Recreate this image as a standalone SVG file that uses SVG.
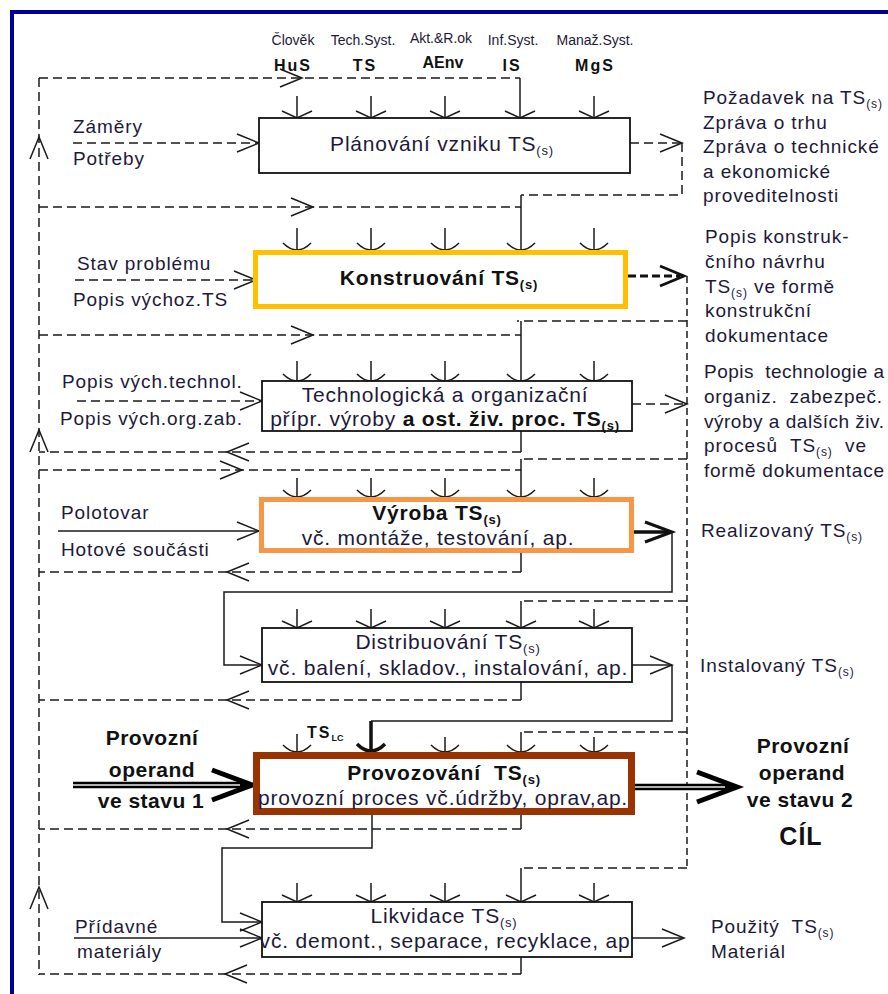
<svg xmlns="http://www.w3.org/2000/svg" width="888" height="994" viewBox="0 0 888 994">
<defs>
<style>
text { font-family: "Liberation Sans", Arial, sans-serif; fill: #1d1a38; }
.lab { font-size: 19px; letter-spacing: 0.9px; }
.fit { letter-spacing: 0; }
.bx { font-size: 21px; letter-spacing: 0.8px; text-anchor: middle; }
.bd { font-weight: bold; fill: #111; }
.hd { font-size: 14px; text-anchor: middle; }
.ab { font-size: 16px; font-weight: bold; text-anchor: middle; fill: #111; letter-spacing: 2px; }
.op { font-size: 21px; font-weight: bold; text-anchor: middle; fill: #111; letter-spacing: 0.5px; }
.ln { fill: none; stroke: #1a1a1a; stroke-width: 1.5; }
.dl { fill: none; stroke: #1a1a1a; stroke-width: 1.5; stroke-dasharray: 9 5; }
.dv { fill: none; stroke: #1a1a1a; stroke-width: 1.5; stroke-dasharray: 7 4; }
.box { fill: #fff; stroke: #111; stroke-width: 1.8; }
</style>
<path id="ah" d="M-22,-9 L0,0 L-22,9" fill="none" stroke="#1a1a1a" stroke-width="1.5"/>
<path id="arc" d="M-14,-7 Q0,7 14,-7" fill="none" stroke="#1a1a1a" stroke-width="1.5"/>
<path id="vee" d="M-15,-7 L0,0 L15,-7" fill="none" stroke="#1a1a1a" stroke-width="1.5"/>
<path id="bigHead" d="M-40,-15 L0,0 L-40,15" fill="none" stroke="#000" stroke-width="5" stroke-linejoin="miter"/>
</defs>

<rect width="888" height="994" fill="#fff"/>
<!-- page frame -->
<rect x="12" y="12" width="900" height="1000" fill="none" stroke="#000099" stroke-width="4"/>

<!-- system headers -->
<g id="headers">
  <text class="hd" x="293" y="45">Člověk</text>
  <text class="hd" x="363" y="45">Tech.Syst.</text>
  <text class="hd" x="441" y="43">Akt.&amp;R.ok</text>
  <text class="hd" x="513" y="45">Inf.Syst.</text>
  <text class="hd" x="595" y="45">Manaž.Syst.</text>
  <text class="ab" x="293" y="71">HuS</text>
  <text class="ab" x="365" y="71">TS</text>
  <text class="ab" x="443" y="68" style="letter-spacing:0">AEnv</text>
  <text class="ab" x="512" y="71">IS</text>
  <text class="ab" x="595" y="71">MgS</text>
</g>

<g id="connectors">
  <!-- left feedback column -->
  <path class="dl" d="M39,78 V975"/>
  <use href="#ah" transform="translate(39,137) rotate(-90)"/>
  <use href="#ah" transform="translate(39,430) rotate(-90)"/>
  <use href="#ah" transform="translate(39,887) rotate(-90)"/>

  <!-- right feedback column -->
  <path class="dv" d="M687,276 V868"/>

  <!-- row 1 -->
  <path class="dl" d="M39,78 H520"/>
  <use href="#ah" x="302" y="78"/>
  <path class="ln" d="M520,78 V118"/>
  <path class="dl" d="M73,143 H257"/>
  <use href="#ah" x="259" y="143"/>
  <path class="dl" d="M630,143 H680"/>
  <use href="#ah" x="682" y="143"/>
  <path class="dl" d="M682,143 V195 H521"/>
  <path class="ln" d="M521,195 V250"/>

  <!-- row 2 -->
  <path class="dl" d="M39,207 H521"/>
  <use href="#ah" x="313" y="207"/>
  <path class="dl" d="M75,280 H254"/>
  <use href="#ah" x="256" y="280"/>
  <path d="M628,276 H680" fill="none" stroke="#111" stroke-width="2.8" stroke-dasharray="8 4"/>
  <path d="M660,266 L684,276 L660,286" fill="none" stroke="#111" stroke-width="2.8"/>

  <!-- row 3 -->
  <path class="dl" d="M687,321 H517"/>
  <path class="ln" d="M521,321 V381"/>
  <path class="dl" d="M39,335 H521"/>
  <use href="#ah" x="313" y="335"/>
  <path class="dl" d="M77,401 H260"/>
  <use href="#ah" x="262" y="401"/>
  <path class="dl" d="M632,404 H685"/>
  <use href="#ah" x="687" y="404"/>
  <path class="ln" d="M521,431 V452"/>
  <path class="dl" d="M521,452 H39"/>
  <use href="#ah" transform="translate(227,452) rotate(180)"/>

  <!-- row 4 -->
  <path class="dl" d="M687,459 H521"/>
  <path class="ln" d="M521,459 V497"/>
  <path class="dl" d="M39,470 H521"/>
  <use href="#ah" x="242" y="470"/>
  <path class="ln" d="M58,531 H257"/>
  <use href="#ah" x="259" y="531"/>
  <path d="M634,532 H670" fill="none" stroke="#111" stroke-width="3.4"/>
  <path d="M645,522 L672,532 L645,542" fill="none" stroke="#111" stroke-width="3"/>
  <path class="ln" d="M672,532 V592 H224 V665 H260"/>
  <use href="#ah" x="262" y="665"/>
  <path class="ln" d="M521,553 V572"/>
  <path class="dl" d="M521,572 H39"/>
  <use href="#ah" transform="translate(227,572) rotate(180)"/>

  <!-- row 5 -->
  <path class="dl" d="M687,601 H521"/>
  <path class="ln" d="M521,601 V628"/>
  <path class="ln" d="M632,665 H671"/>
  <use href="#ah" x="672" y="665"/>
  <path class="ln" d="M672,665 V721 H371"/>
  <path d="M371,721 V751" fill="none" stroke="#111" stroke-width="3.5"/>
  <path d="M357,744 Q371,758 385,744" fill="none" stroke="#111" stroke-width="3.5"/>
  <path class="ln" d="M521,682 V700"/>
  <path class="dl" d="M521,700 H39"/>
  <use href="#ah" transform="translate(227,700) rotate(180)"/>

  <!-- row 6 -->
  <path class="dl" d="M687,732 H521"/>
  <path class="ln" d="M521,732 V752"/>
  <path d="M73,785 H246" fill="none" stroke="#000" stroke-width="6.5"/>
  <path d="M73,785 H240" fill="none" stroke="#b0b0b0" stroke-width="2"/>
  <use href="#bigHead" x="252" y="785"/>
  <path d="M635,787 H731" fill="none" stroke="#000" stroke-width="6.5"/>
  <path d="M635,787 H725" fill="none" stroke="#b0b0b0" stroke-width="2"/>
  <use href="#bigHead" x="737" y="787"/>
  <path class="ln" d="M521,815 V829"/>
  <path class="dl" d="M521,829 H39"/>
  <use href="#ah" transform="translate(227,829) rotate(180)"/>
  <path class="ln" d="M372,815 V848 H222 V922 H260"/>
  <use href="#ah" x="262" y="922"/>

  <!-- row 7 -->
  <path class="dl" d="M687,868 H521"/>
  <path class="ln" d="M521,868 V902"/>
  <path class="ln" d="M74,938 H260"/>
  <use href="#ah" x="262" y="938"/>
  <path class="ln" d="M632,938 H682"/>
  <use href="#ah" x="684" y="938"/>
  <path class="ln" d="M521,957 V974"/>
  <path class="dl" d="M521,974 H39"/>
  <use href="#ah" transform="translate(225,974) rotate(180)"/>

  <!-- mechanism inputs above each process -->
  <path class="ln" d="M297,96 V118 M371,96 V118 M445,96 V118 M594,96 V118"/>
  <use href="#vee" x="297" y="118"/><use href="#vee" x="371" y="118"/><use href="#vee" x="445" y="118"/><use href="#vee" x="520" y="118"/><use href="#vee" x="594" y="118"/>

  <path class="ln" d="M297,228 V250 M371,228 V250 M445,228 V250 M594,228 V250"/>
  <use href="#arc" x="297" y="250"/><use href="#arc" x="371" y="250"/><use href="#arc" x="445" y="250"/><use href="#arc" x="521" y="250"/><use href="#arc" x="594" y="250"/>

  <path class="ln" d="M297,361 V381 M371,361 V381 M445,361 V381 M594,361 V381"/>
  <use href="#arc" x="297" y="381"/><use href="#arc" x="371" y="381"/><use href="#arc" x="445" y="381"/><use href="#arc" x="521" y="381"/><use href="#arc" x="594" y="381"/>

  <path class="ln" d="M297,478 V497 M371,478 V497 M445,478 V497 M594,478 V497"/>
  <use href="#arc" x="297" y="497"/><use href="#arc" x="371" y="497"/><use href="#arc" x="445" y="497"/><use href="#arc" x="521" y="497"/><use href="#arc" x="594" y="497"/>

  <path class="ln" d="M297,609 V628 M371,609 V628 M445,609 V628 M594,609 V628"/>
  <use href="#vee" x="297" y="628"/><use href="#vee" x="371" y="628"/><use href="#vee" x="445" y="628"/><use href="#vee" x="521" y="628"/><use href="#vee" x="594" y="628"/>

  <path class="ln" d="M297,734 V752 M445,737 V752 M594,737 V752"/>
  <use href="#arc" x="297" y="752"/><use href="#arc" x="445" y="752"/><use href="#arc" x="521" y="752"/><use href="#arc" x="594" y="752"/>

  <path class="ln" d="M297,883 V902 M371,883 V902 M445,883 V902 M594,883 V902"/>
  <use href="#vee" x="297" y="902"/><use href="#vee" x="371" y="902"/><use href="#vee" x="445" y="902"/><use href="#vee" x="521" y="902"/><use href="#vee" x="594" y="902"/>
</g>

<!-- process nodes -->
<g id="planovani">
  <rect class="box" x="259" y="118" width="371" height="55"/>
  <text class="bx" x="442" y="151">Plánování vzniku TS<tspan font-size="13" dy="4">(s)</tspan></text>
</g>
<g id="konstruovani">
  <rect x="255.5" y="252.5" width="370" height="54" fill="#fff" stroke="#FFC000" stroke-width="5"/>
  <text class="bx bd" x="439" y="285">Konstruování TS<tspan font-size="13" dy="4">(s)</tspan></text>
</g>
<g id="technologicka">
  <rect class="box" x="262" y="381" width="370" height="50"/>
  <text class="bx" x="445" y="402">Technologická a organizační</text>
  <text class="bx" x="445" y="426">přípr. výroby <tspan class="bd">a ost. živ. proc. TS<tspan font-size="13" dy="4">(s)</tspan></tspan></text>
</g>
<g id="vyroba">
  <rect x="261.5" y="499.5" width="370" height="51" fill="#fff" stroke="#F79646" stroke-width="5"/>
  <text class="bx bd" x="437" y="520">Výroba TS<tspan font-size="13" dy="4">(s)</tspan></text>
  <text class="bx" x="438" y="545">vč. montáže, testování, ap.</text>
</g>
<g id="distribuovani">
  <rect class="box" x="262" y="628" width="370" height="54"/>
  <text class="bx" x="448" y="649">Distribuování TS<tspan font-size="13" dy="4">(s)</tspan></text>
  <text class="bx" x="448" y="675">vč. balení, skladov., instalování, ap.</text>
</g>
<g id="provozovani">
  <rect x="256.5" y="755.5" width="375" height="56" fill="#fff" stroke="#993300" stroke-width="7"/>
  <text class="bx bd" x="444" y="780">Provozování&#160; TS<tspan font-size="13" dy="4">(s)</tspan></text>
  <text class="bx" x="443" y="805">provozní proces vč.údržby, oprav,ap.</text>
  <text class="ab" x="307" y="738" style="text-anchor:start">TS<tspan font-size="9" dy="3" letter-spacing="0">LC</tspan></text>
</g>
<g id="likvidace">
  <rect class="box" x="262" y="902" width="370" height="55"/>
  <text class="bx" x="444" y="923">Likvidace TS<tspan font-size="13" dy="4">(s)</tspan></text>
  <text class="bx" x="445" y="948">vč. demont., separace, recyklace, ap</text>
</g>

<!-- inputs -->
<g id="inputs">
  <text class="lab" x="73" y="133">Záměry</text>
  <text class="lab" x="73" y="165">Potřeby</text>
  <text class="lab" x="77" y="270">Stav problému</text>
  <text class="lab" x="73" y="306">Popis výchoz.TS</text>
  <text class="lab" x="62" y="388">Popis vých.technol.</text>
  <text class="lab" x="60" y="425">Popis vých.org.zab.</text>
  <text class="lab" x="61" y="519">Polotovar</text>
  <text class="lab" x="61" y="556">Hotové součásti</text>
  <text class="op" x="152" y="745">Provozní</text>
  <text class="op" x="152" y="777">operand</text>
  <text class="op" x="151" y="808">ve stavu 1</text>
  <text class="lab" x="75" y="933">Přídavné</text>
  <text class="lab" x="77" y="958">materiály</text>
</g>

<!-- outputs -->
<g id="outputs">
  <text class="lab" x="703" y="104">Požadavek na TS<tspan font-size="12" dy="4">(s)</tspan></text>
  <text class="lab" x="703" y="128.5">Zpráva o trhu</text>
  <text class="lab" x="703" y="153">Zpráva o technické</text>
  <text class="lab" x="703" y="177.5">a ekonomické</text>
  <text class="lab" x="703" y="202">proveditelnosti</text>

  <text class="lab" x="705" y="243">Popis konstruk-</text>
  <text class="lab" x="705" y="268">čního návrhu</text>
  <text class="lab" x="705" y="293">TS<tspan font-size="12" dy="4">(s)</tspan><tspan dy="-4"> ve formě</tspan></text>
  <text class="lab" x="705" y="317">konstrukční</text>
  <text class="lab" x="705" y="342">dokumentace</text>

  <text class="lab fit" x="704" y="378" textLength="180" lengthAdjust="spacing">Popis&#160; technologie a</text>
  <text class="lab fit" x="704" y="403" textLength="178" lengthAdjust="spacing">organiz.&#160; zabezpeč.</text>
  <text class="lab fit" x="704" y="428" textLength="180" lengthAdjust="spacing">výroby a dalších živ.</text>
  <text class="lab" x="704" y="452">procesů&#160; TS<tspan font-size="12" dy="4">(s)</tspan><tspan dy="-4">&#160; ve</tspan></text>
  <text class="lab fit" x="704" y="477" textLength="180" lengthAdjust="spacing">formě dokumentace</text>

  <text class="lab" x="701" y="537">Realizovaný TS<tspan font-size="12" dy="4">(s)</tspan></text>
  <text class="lab" x="700" y="672">Instalovaný TS<tspan font-size="12" dy="4">(s)</tspan></text>

  <text class="op" x="803" y="753">Provozní</text>
  <text class="op" x="802" y="780">operand</text>
  <text class="op" x="800" y="807">ve stavu 2</text>
  <text class="op" x="801" y="845" style="font-size:25px;letter-spacing:1px">CÍL</text>

  <text class="lab" x="711" y="933">Použitý&#160; TS<tspan font-size="12" dy="4">(s)</tspan></text>
  <text class="lab" x="711" y="958">Materiál</text>
</g>
</svg>
